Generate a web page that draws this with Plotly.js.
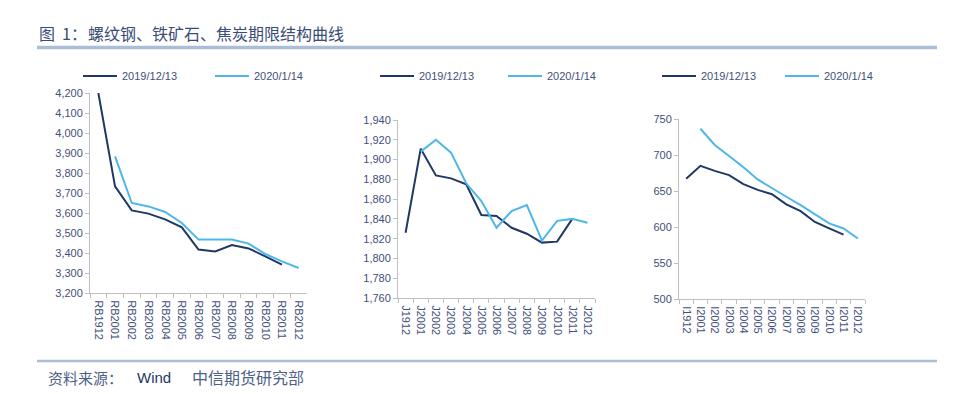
<!DOCTYPE html>
<html><head><meta charset="utf-8">
<script src="https://cdn.plot.ly/plotly-3.0.1.min.js"></script>
<style>html,body{margin:0;padding:0;background:#fff}#c{width:970px;height:394px}</style>
</head><body><div id="c"></div>
<script>
// ---- data ----
const seriesNames = ["2019/12/13", "2020/1/14"];
const rbCats = ["RB1912","RB2001","RB2002","RB2003","RB2004","RB2005","RB2006","RB2007","RB2008","RB2009","RB2010","RB2011","RB2012"];
const rbOld = [4200, 3733, 3613, 3597, 3568, 3528, 3417, 3408, 3440, 3423, 3383, 3342, null];
const rbNew = [null, 3883, 3650, 3633, 3605, 3550, 3467, 3467, 3467, 3447, 3395, 3358, 3325];
const jCats = ["J1912","J2001","J2002","J2003","J2004","J2005","J2006","J2007","J2008","J2009","J2010","J2011","J2012"];
const jOld = [1826, 1911, 1884, 1881, 1875, 1844, 1843, 1831, 1825, 1816, 1817, 1840, null];
const jNew = [null, 1908, 1920, 1907, 1876, 1858, 1831, 1848, 1854, 1818, 1838, 1840, 1836];
const iCats = ["I1912","I2001","I2002","I2003","I2004","I2005","I2006","I2007","I2008","I2009","I2010","I2011","I2012"];
const iOld = [667, 685, 678, 672, 659.5, 651.5, 645.5, 631.5, 622, 607, 598, 589.5, null];
const iNew = [null, 736.5, 714, 698.5, 683, 666, 653.5, 642, 630.5, 618, 605, 598, 584];
const titleParts = ["图", "1：", "螺纹钢、铁矿石、焦炭期限结构曲线"];
const sourceParts = ["资料来源：", "Wind", "中信期货研究部"];

// ---- style ----
const W = 970, H = 394;
const darkC = "#1F3864", lightC = "#4DB6EA", tickC = "#3F5079", axisC = "#BFBFBF";
const px = v => v / W, py = v => 1 - v / H;
const tfont = {family: "Liberation Sans, Arial, sans-serif", size: 11, color: tickC};
const cjk = "Noto Sans CJK SC, sans-serif";

const panels = [
  {cats: rbCats, a: rbOld, b: rbNew, x: [90, 307], y: [293, 93], range: [3200, 4200], dtick: 100, leg: [83, 215]},
  {cats: jCats, a: jOld, b: jNew, x: [398, 595], y: [298, 120], range: [1760, 1940], dtick: 20, leg: [380, 508]},
  {cats: iCats, a: iOld, b: iNew, x: [679, 865], y: [299, 119], range: [500, 750], dtick: 50, leg: [662, 785]}
];

const data = [], layout = {
  width: W, height: H, margin: {l: 0, r: 0, t: 0, b: 0},
  paper_bgcolor: "#fff", plot_bgcolor: "rgba(0,0,0,0)", showlegend: false,
  shapes: [], annotations: []
};

panels.forEach((p, i) => {
  const n = i === 0 ? "" : String(i + 1);
  const xa = "x" + n, ya = "y" + n;
  data.push({x: p.cats, y: p.a, type: "scatter", mode: "lines", name: seriesNames[0],
    line: {color: darkC, width: 2}, xaxis: xa, yaxis: ya, connectgaps: false});
  data.push({x: p.cats, y: p.b, type: "scatter", mode: "lines", name: seriesNames[1],
    line: {color: lightC, width: 2}, xaxis: xa, yaxis: ya, connectgaps: false});
  layout["xaxis" + n] = {
    domain: [px(p.x[0]), px(p.x[1])], anchor: ya, type: "category",
    range: [-0.5, p.cats.length - 0.5], tickangle: 90, tickfont: tfont, ticklabelstandoff: 4,
    showline: true, linecolor: axisC, linewidth: 1, showgrid: false, zeroline: false,
    ticks: "outside", tickson: "boundaries", ticklen: 4, tickcolor: axisC, fixedrange: true
  };
  layout["yaxis" + n] = {
    domain: [py(p.y[0]), py(p.y[1])], anchor: xa, range: p.range, dtick: p.dtick,
    tickformat: ",d", tickfont: tfont, showline: true, linecolor: axisC, linewidth: 1,
    showgrid: false, zeroline: false, ticks: "outside", ticklen: 4, tickcolor: axisC, fixedrange: true
  };
  [0, 1].forEach(k => {
    const lx = p.leg[k];
    layout.shapes.push({type: "line", xref: "paper", yref: "paper",
      x0: px(lx), x1: px(lx + 34), y0: py(76), y1: py(76),
      line: {color: k === 0 ? darkC : lightC, width: 2}});
    layout.annotations.push({xref: "paper", yref: "paper", x: px(lx + 37), y: py(76),
      xanchor: "left", yanchor: "middle", text: seriesNames[k], showarrow: false,
      font: {family: "Liberation Sans, Arial, sans-serif", size: 11, color: tickC}});
  });
});

// title pieces
const tX = [37, 60, 86];
titleParts.forEach((t, k) => layout.annotations.push({xref: "paper", yref: "paper", x: px(tX[k]), y: py(33),
  xanchor: "left", yanchor: "middle", text: t, showarrow: false,
  font: {family: cjk, size: 16, color: "#3A4C78"}}));
// source pieces
const sX = [46, 135, 190], sS = [15, 15, 16], sC = ["#4E5F88", "#1F3864", "#4E5F88"];
sourceParts.forEach((t, k) => layout.annotations.push({xref: "paper", yref: "paper", x: px(sX[k]), y: py(377),
  xanchor: "left", yanchor: "middle", text: t, showarrow: false,
  font: {family: k === 1 ? "Liberation Sans, Arial, sans-serif" : cjk, size: sS[k], color: sC[k]}}));
layout.shapes.push({type: "line", xref: "paper", yref: "paper", x0: px(37), x1: px(937), y0: py(47.5), y1: py(47.5),
  line: {color: "#ABBDD7", width: 3.5}});
layout.shapes.push({type: "line", xref: "paper", yref: "paper", x0: px(37), x1: px(937), y0: py(361), y1: py(361),
  line: {color: "#ABBDD7", width: 2.5}});

Plotly.newPlot("c", data, layout, {displayModeBar: false, staticPlot: true});
</script></body></html>
